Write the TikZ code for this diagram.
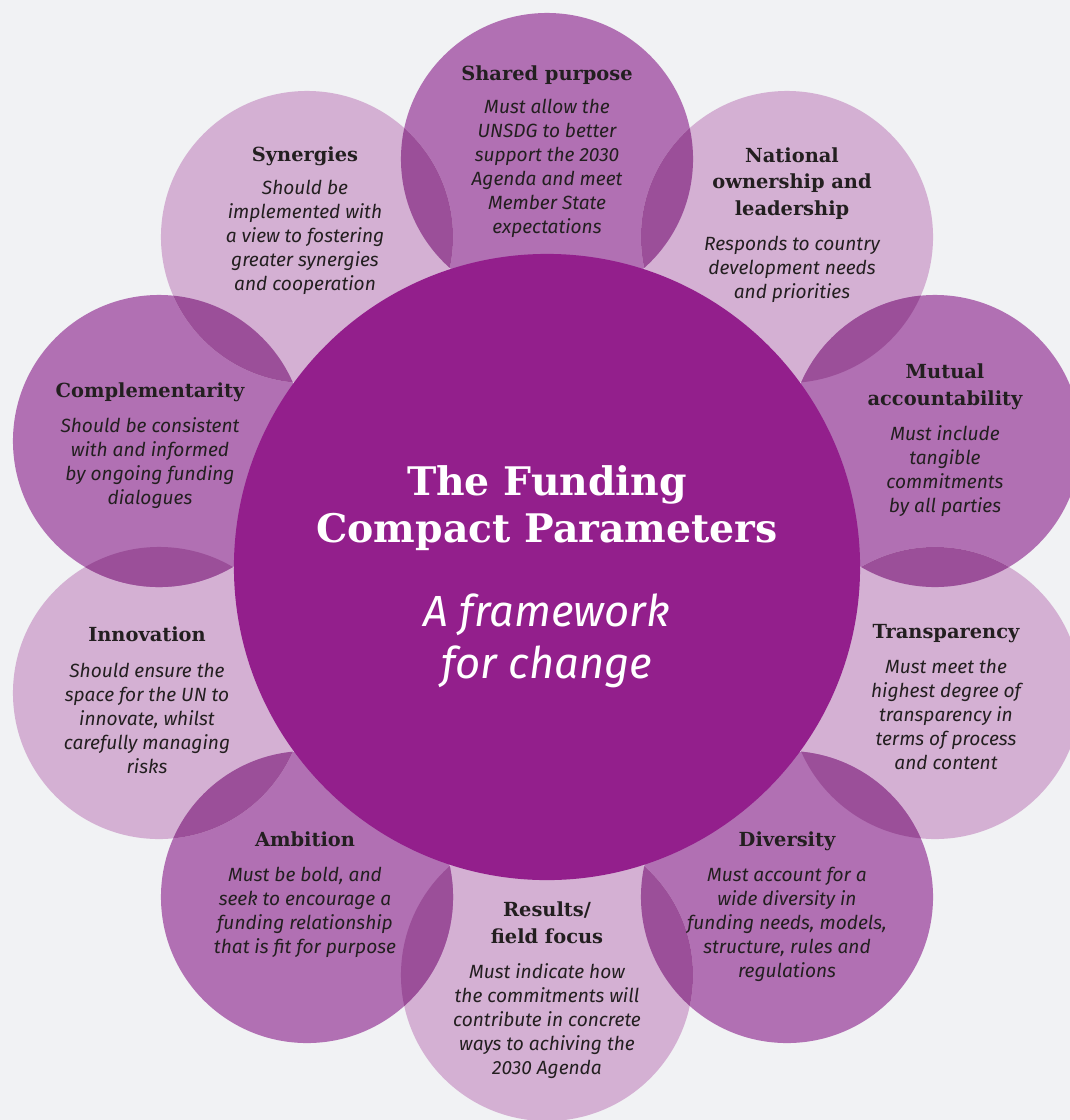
\documentclass[tikz,border=0pt]{standalone}
\usepackage{fontspec}
\setmainfont{Fira Sans}
\newfontfamily\slabfont{DejaVu Serif}
\definecolor{paper}{HTML}{F1F2F4}
\definecolor{hubfill}{HTML}{931F8C}
\definecolor{darkpetal}{HTML}{B170B3}
\definecolor{lightpetal}{HTML}{D4B0D3}
\definecolor{overlapfill}{HTML}{9B4F99}
\definecolor{ink}{HTML}{231F20}
\begin{document}
\begin{tikzpicture}[x=0.025cm,y=-0.025cm,inner sep=0pt,outer sep=0pt,
petal/.style={circle,minimum size=7.3cm},
head/.style={font=\slabfont\bfseries\fontsize{13.8}{18.5}\selectfont,text=ink,align=center,anchor=base},
body/.style={font=\itshape\fontsize{13.6}{17}\selectfont,text=ink,align=center,anchor=base}]
\fill[paper] (0,0) rectangle (1070,1120);
\useasboundingbox (0,0) rectangle (1070,1120);
% petals
\node[petal,fill=darkpetal]  (purpose)   at (547,159) {};
\node[petal,fill=lightpetal] (ownership) at (787,237) {};
\node[petal,fill=darkpetal]  (mutual)    at (935,441) {};
\node[petal,fill=lightpetal] (transp)    at (935,693) {};
\node[petal,fill=darkpetal]  (diversity) at (787,897) {};
\node[petal,fill=lightpetal] (results)   at (547,975) {};
\node[petal,fill=darkpetal]  (ambition)  at (307,897) {};
\node[petal,fill=lightpetal] (innov)     at (159,693) {};
\node[petal,fill=darkpetal]  (compl)     at (159,441) {};
\node[petal,fill=lightpetal] (synergy)   at (307,237) {};
% overlaps of neighbouring petals
\foreach \a/\b in {purpose/ownership,ownership/mutual,mutual/transp,transp/diversity,
  diversity/results,results/ambition,ambition/innov,innov/compl,compl/synergy,synergy/purpose}{
  \begin{scope}
    \clip (\a.center) circle[radius=3.65cm];
    \fill[overlapfill] (\b.center) circle[radius=3.65cm];
  \end{scope}
}
% hub
\node[circle,fill=hubfill,minimum size=15.65cm] (hub) at (547,567) {};
\node[font=\slabfont\bfseries\fontsize{28}{33.4}\selectfont,text=white,align=center,anchor=base] (title) at (547,542) {The Funding\\Compact Parameters};
\node[font=\itshape\fontsize{31}{36.3}\selectfont,text=white,align=center,anchor=base] (subtitle) at (547,678) {A framework\\for change};
% petal texts (base = last line)
\node[head] (purpose-h) at (547,80) {Shared purpose};
\node[body] (purpose-b) at (547,233) {Must allow the\\UNSDG to better\\support the 2030\\Agenda and meet\\Member State\\expectations};
\node[head] (ownership-h) at (792,215) {National\\ownership and\\leadership};
\node[body] (ownership-b) at (792,298) {Responds to country\\development needs\\and priorities};
\node[head] (mutual-h) at (945,405) {Mutual\\accountability};
\node[body] (mutual-b) at (945,512) {Must include\\tangible\\commitments\\by all parties};
\node[head] (transp-h) at (946,638) {Transparency};
\node[body] (transp-b) at (946,769) {Must meet the\\highest degree of\\transparency in\\terms of process\\and content};
\node[head] (diversity-h) at (787,846) {Diversity};
\node[body] (diversity-b) at (787,977) {Must account for a\\wide diversity in\\funding needs, models,\\structure, rules and\\regulations};
\node[head] (results-h) at (547,943) {Results/\\field focus};
\node[body] (results-b) at (547,1074) {Must indicate how\\the commitments will\\contribute in concrete\\ways to achiving the\\2030 Agenda};
\node[head] (ambition-h) at (305,846) {Ambition};
\node[body] (ambition-b) at (305,953) {Must be bold, and\\seek to encourage a\\funding relationship\\that is fit for purpose};
\node[head] (innov-h) at (147,641) {Innovation};
\node[body] (innov-b) at (147,773) {Should ensure the\\space for the UN to\\innovate, whilst\\carefully managing\\risks};
\node[head] (compl-h) at (150,397) {Complementarity};
\node[body] (compl-b) at (150,504) {Should be consistent\\with and informed\\by ongoing funding\\dialogues};
\node[head] (synergy-h) at (305,161) {Synergies};
\node[body] (synergy-b) at (305,290) {Should be\\implemented with\\a view to fostering\\greater synergies\\and cooperation};
\end{tikzpicture}
\end{document}
